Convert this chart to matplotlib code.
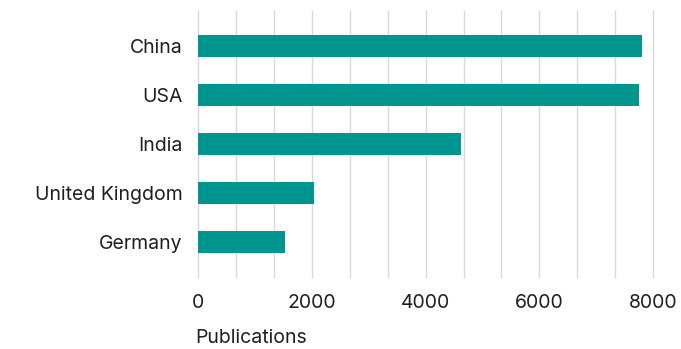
import matplotlib

matplotlib.use("Agg")
import matplotlib.pyplot as plt
from matplotlib.ticker import MultipleLocator

countries = ["China", "USA", "India", "United Kingdom", "Germany"]
publications = [7810, 7760, 4630, 2035, 1525]
tick_values = [0, 2000, 4000, 6000, 8000]

plt.rcParams["font.family"] = ["Inter", "DejaVu Sans"]

fig = plt.figure(figsize=(6.81, 3.49), dpi=100)
ax = fig.add_axes([0.2912, 0.2063, 0.6677, 0.7622])

ax.barh(countries, publications, height=0.44, color="#00958F", zorder=3)
ax.set_ylim(len(countries) - 1 + 0.714, -0.714)
ax.set_xlim(0, 8000)

ax.set_xticks(tick_values)
ax.xaxis.set_minor_locator(MultipleLocator(8000 / 12))
ax.grid(axis="x", which="both", color="#d9d9d9", linewidth=1.0, zorder=0)
for t in ax.xaxis.get_major_ticks() + ax.xaxis.get_minor_ticks():
    t.gridline.set_clip_on(False)
ax.tick_params(axis="both", which="both", length=0, labelsize=14, labelcolor="#1f1f1f")
ax.tick_params(axis="x", pad=12)
ax.tick_params(axis="y", pad=11.5)
for s in ax.spines.values():
    s.set_visible(False)

fig.text(0.286, 0.005, "Publications", fontsize=14, color="#1f1f1f", ha="left", va="bottom")

fig.savefig("out.png", dpi=100)
